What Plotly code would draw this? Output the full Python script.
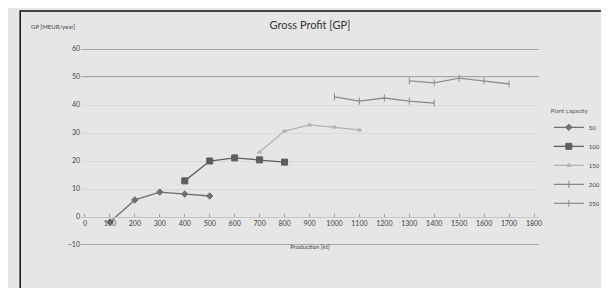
import plotly.graph_objects as go

# ---- data ----
x_labels = ["0", "100", "200", "300", "400", "500", "600", "700", "800", "900",
            "1000", "1100", "1200", "1300", "1400", "1500", "1600", "1700", "1800"]
x_positions = list(range(len(x_labels)))

series_names = ["50", "100", "150", "200", "250"]
s1_x = [1, 2, 3, 4, 5]
s1_y = [-1.8, 6.1, 8.9, 8.2, 7.5]
s2_x = [4, 5, 6, 7, 8]
s2_y = [12.9, 20.0, 21.1, 20.4, 19.6]
s3_x = [7, 8, 9, 10, 11]
s3_y = [23.2, 30.7, 32.9, 32.1, 31.1]
s4_x = [10, 11, 12, 13, 14]
s4_y = [42.9, 41.4, 42.5, 41.4, 40.7]
s5_x = [13, 14, 15, 16, 17]
s5_y = [48.6, 47.9, 49.6, 48.6, 47.5]

y_ticks = [-10, 0, 10, 20, 30, 40, 50, 60]
emphasized_grid = [60, 50, -10]

colors = ["#707070", "#5e5e5e", "#b2b2b2", "#8a8a8a", "#909090"]
symbols = ["diamond", "square", "triangle-up", "line-ns-open", "line-ns-open"]
sizes = [5, 6, 4, 5, 5]

font_family = "Lato, 'Open Sans', 'DejaVu Sans', sans-serif"

fig = go.Figure()
for name, xs, ys, c, sym, sz in zip(series_names,
                                    [s1_x, s2_x, s3_x, s4_x, s5_x],
                                    [s1_y, s2_y, s3_y, s4_y, s5_y],
                                    colors, symbols, sizes):
    fig.add_trace(go.Scatter(
        x=xs, y=ys, name=name, mode="lines+markers",
        line=dict(color=c, width=1.3),
        marker=dict(symbol=sym, size=sz, color=c, line=dict(color=c, width=1)),
    ))

for g in emphasized_grid:
    fig.add_shape(type="line", xref="paper", yref="y", x0=0, x1=1, y0=g, y1=g,
                  line=dict(color="#8f8f8f", width=1.6), layer="below")

# frame border
fig.add_shape(type="rect", xref="paper", yref="paper",
              x0=-62/467, x1=(608-73)/467, y0=-(286-237)/196, y1=(237-3)/196,
              line=dict(color="#111111", width=1.5), layer="below")

fig.update_layout(
    width=609, height=288,
    margin=dict(l=73, r=69, t=41, b=51),
    paper_bgcolor="#e6e6e6", plot_bgcolor="#e6e6e6",
    font=dict(family=font_family, size=7, color="#4a4a4a"),
    title=dict(text="Gross Profit [GP]", x=0.5, xref="paper", xanchor="center",
               y=1 - 17/288, yanchor="middle",
               font=dict(family=font_family, size=11, color="#333333")),
    showlegend=True,
    legend=dict(title=dict(text="Plant capacity", font=dict(size=6, color="#555555")),
                x=(550-73)/467, xanchor="left", y=(237-97)/196, yanchor="top",
                font=dict(size=6, color="#444444"), bgcolor="rgba(0,0,0,0)",
                tracegroupgap=0, itemwidth=30),
    xaxis=dict(
        range=[-0.16, 18.2], tickmode="array", tickvals=x_positions, ticktext=x_labels,
        showgrid=False, zeroline=False, showline=True, linecolor="#c4c4c4",
        anchor="free", position=10/70, ticks="inside", ticklen=3, tickcolor="#a0a0a0",
        tickfont=dict(size=7, color="#444444"),
        title=dict(text="Production [kt]", font=dict(size=6, color="#444444"), standoff=18),
    ),
    yaxis=dict(
        range=[-10, 60], tickmode="array", tickvals=y_ticks,
        showgrid=True, gridcolor="#dadada", gridwidth=1, zeroline=False,
        showline=False, ticks="", tickfont=dict(size=7, color="#444444"),
    ),
    annotations=[dict(text="GP [MEUR/year]", xref="paper", yref="paper",
                      x=-53/467, y=(237-19)/196, xanchor="left", yanchor="middle",
                      showarrow=False, font=dict(size=6, color="#444444"))],
)

fig.write_html("out.html")
